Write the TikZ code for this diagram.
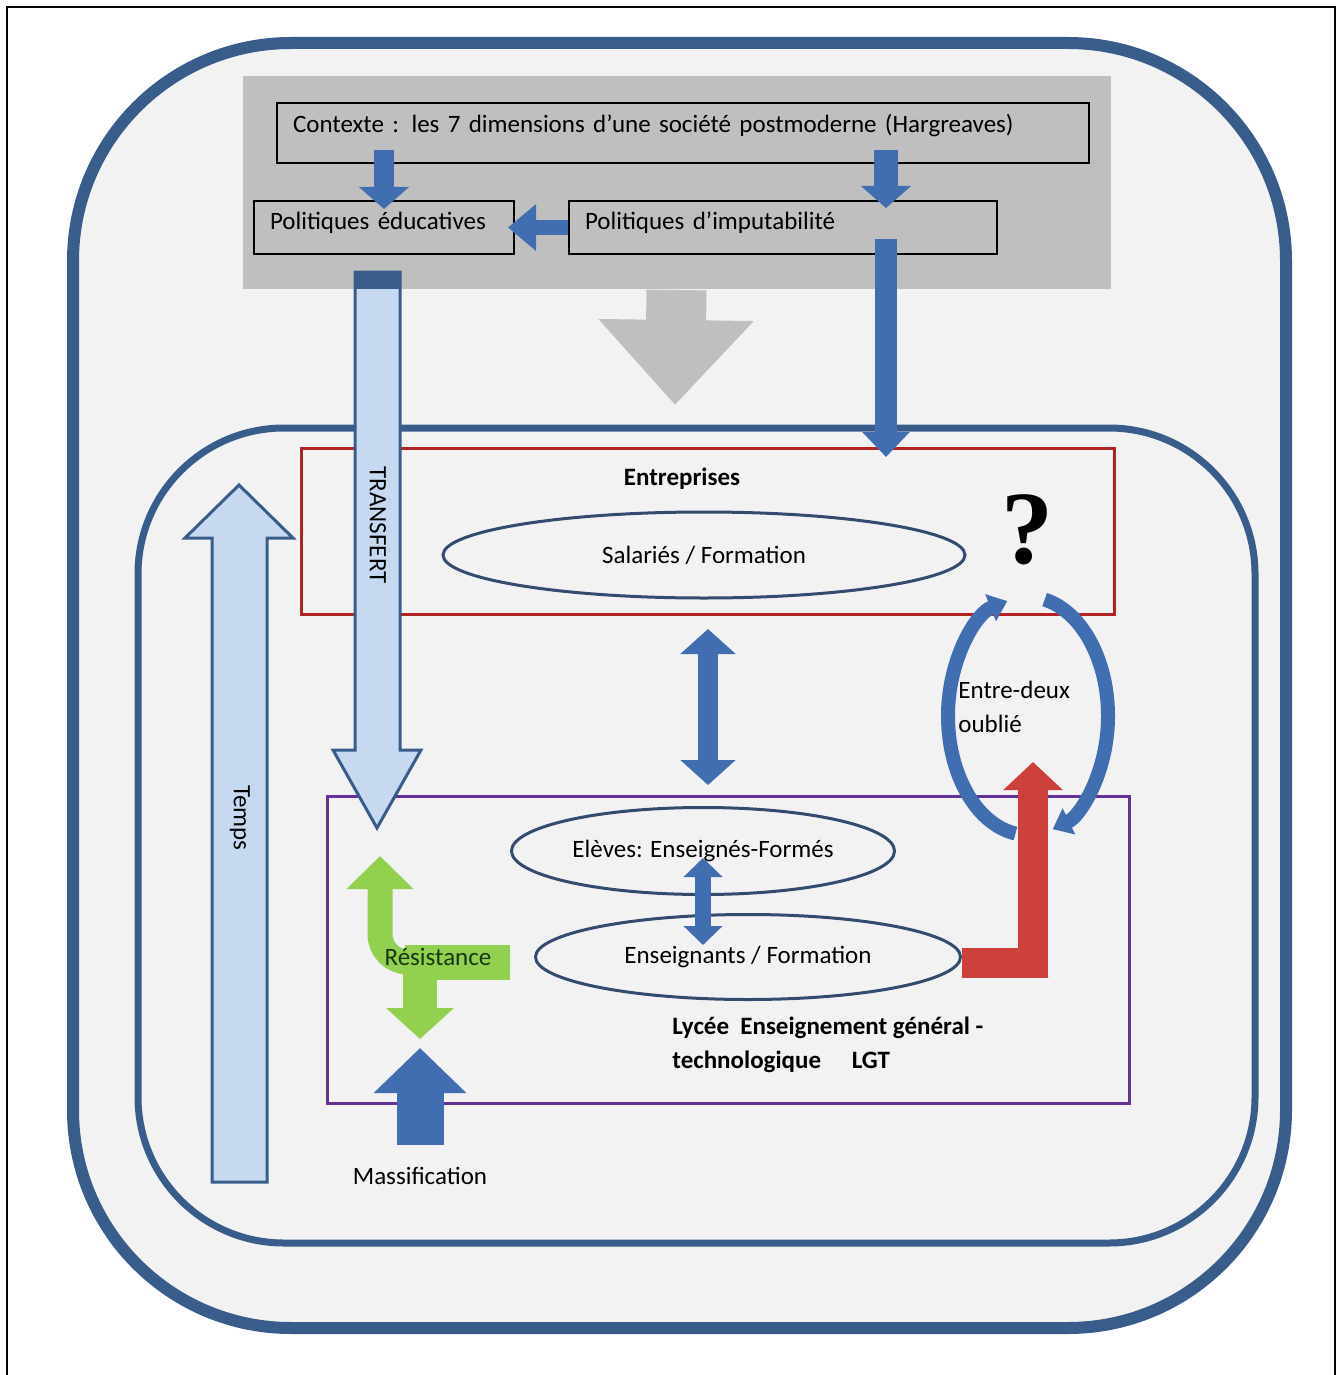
\documentclass[tikz,border=0pt]{standalone}
\usepackage{fontspec}
\setmainfont{Carlito}
\newfontfamily\qmarkfont{Liberation Serif}
\usepackage{tikz}
\usetikzlibrary{arrows.meta,shapes.geometric,calc}

\definecolor{frameblue}{RGB}{56,93,138}
\definecolor{arrowblue}{RGB}{64,110,176}
\definecolor{paleblue}{RGB}{198,217,241}
\definecolor{ovalblue}{RGB}{50,75,110}
\definecolor{boxgray}{RGB}{191,191,191}
\definecolor{bggray}{RGB}{242,242,242}
\definecolor{firmred}{RGB}{180,35,35}
\definecolor{lgtpurple}{RGB}{100,50,150}
\definecolor{loopred}{RGB}{204,65,60}
\definecolor{resgreen}{RGB}{146,208,80}
\definecolor{restext}{RGB}{25,55,15}

\tikzstyle{lbl}=[inner sep=0pt, font=\fontsize{12.5}{17}\selectfont]
\tikzstyle{boldlbl}=[inner sep=0pt, font=\fontsize{12.5}{17}\selectfont\bfseries]
\tikzstyle{policy}=[rectangle, draw=black, line width=1pt, anchor=north west, align=left, inner xsep=8pt, inner ysep=3pt, font=\fontsize{12.5}{17}\selectfont]
\tikzstyle{ovalbox}=[ellipse, draw=ovalblue, line width=1.5pt, inner sep=0pt, font=\fontsize{12.5}{17}\selectfont]
\tikzstyle{zone}=[rectangle, line width=1.5pt, anchor=north west, inner sep=0pt]
\tikzstyle{barrow}=[draw=arrowblue, line join=miter]
\tikzstyle{palearrow}=[fill=paleblue, draw=frameblue, line width=1.5pt, line join=miter]
\tikzstyle{looparrow}=[draw=arrowblue, line width=7pt, -{Triangle[width=14pt,length=9pt]}]

\begin{document}
\begin{tikzpicture}[x=0.5pt, y=-0.5pt]
\useasboundingbox[fill=white] (0,0) rectangle (1339,1375);
\draw[line width=1.25pt] (7,1375) -- (7,7) -- (1335,7) -- (1335,1375);
\draw[frameblue, fill=bggray, line width=6pt, rounded corners=109pt] (73,43) rectangle (1286,1328);

% context zone
\node[zone, fill=boxgray, minimum width=434pt, minimum height=106pt] (ctxzone) at (241,75) {};
\node[policy, text width=390pt, text height=12pt, text depth=12pt] (ctx) at (276,102) {Contexte : les 7 dimensions d'une société postmoderne (Hargreaves)};
\node[policy, text width=114pt, text height=11pt, text depth=9.5pt] (educ) at (253,200) {Politiques éducatives};
\node[policy, text width=198pt, text height=11pt, text depth=9.5pt] (imput) at (568,200) {Politiques d'imputabilité};

\coordinate (rcol) at (886,0);
\coordinate (mcol) at (708,0);
\coordinate (gtip) at (675,405);

\draw[barrow, line width=10pt, -{Triangle[width=24.5pt,length=11pt]}] ([yshift=7pt]ctx.south -| educ.north) -- ([yshift=-4.5pt]educ.north);
\draw[barrow, line width=12pt, -{Triangle[width=24.5pt,length=11pt]}] ([yshift=7pt]ctx.south -| rcol) -- ([yshift=-4pt]imput.north -| rcol);
\draw[barrow, line width=7.5pt, -{Triangle[width=22.5pt,length=14pt]}] (imput.west) -- ([xshift=-3.5pt]educ.east);
\draw[draw=boxgray, line width=30pt, -{Triangle[width=75pt,length=42.5pt]}] (ctxzone.south) -- (gtip);

% inner panel
\draw[frameblue, line width=3.5pt, rounded corners=73pt] (138,428) rectangle (1255,1243);

% entreprises
\node[zone, draw=firmred, minimum width=406.5pt, minimum height=83pt] (firms) at (300,447) {};
\node[boldlbl] (firmlbl) at (682,479) {Entreprises};
\node[ovalbox, minimum width=261pt, minimum height=43pt] (salaries) at (704,555) {Salariés / Formation};
\node[inner sep=0pt, font=\qmarkfont\bfseries\fontsize{52}{52}\selectfont] (qmark) at (1027,530) {?};

% lycee
\node[zone, draw=lgtpurple, minimum width=401pt, minimum height=153.5pt] (lgt) at (326,795) {};
\node[ovalbox, minimum width=191.5pt, minimum height=43.5pt] (eleves) at (703,851) {Elèves: Enseignés-Formés};
\node[ovalbox, minimum width=212.5pt, minimum height=42.5pt] (ensei) at (748,957) {Enseignants / Formation};
\node[boldlbl, anchor=west, align=left] (lgtlbl) at (672,1045) {Lycée\ \ Enseignement général -\\technologique\hspace{1em} LGT};

% temps / transfert
\draw[palearrow] (212,1182) -- (212,538) -- (185,538) -- (239,485) -- (293,538) -- (267,538) -- (267,1182) -- cycle;
\node[lbl, rotate=-90] (temps) at (240,818) {Temps};
\draw[palearrow] (355,272) -- (355,750) -- (333,750) -- (377,828) -- (421,750) -- (400,750) -- (400,272) -- cycle;
\fill[frameblue] (355,272) rectangle (400,289);
\node[lbl, rotate=-90] (transfert) at (378,525) {TRANSFERT};

\draw[barrow, line width=11pt, -{Triangle[width=23pt,length=12.5pt]}] ([yshift=8pt]imput.south -| rcol) -- ([yshift=-5pt]firms.north -| rcol);
\draw[barrow, line width=10pt, {Triangle[width=27pt,length=12.5pt]}-{Triangle[width=27pt,length=12.5pt]}] ([yshift=-6.5pt]firms.south -| mcol) -- ([yshift=5pt]lgt.north -| mcol);
\draw[barrow, line width=8pt, {Triangle[width=19pt,length=9.5pt]}-{Triangle[width=19pt,length=9.5pt]}] ([yshift=-3.5pt]eleves.center) -- ($(ensei.center -| eleves.center)+(0,-12)$);

% entre-deux
\coordinate (loopc) at (1028,716);
\draw[looparrow] ($(loopc)+(99:80 and 119)$) arc[start angle=99, end angle=255, x radius=80, y radius=119];
\draw[looparrow] ($(loopc)+(282:80 and 119)$) arc[start angle=282, end angle=432, x radius=80, y radius=119];
\node[lbl, anchor=west, align=left] (entredeux) at (958,707) {Entre-deux\\oublié};

\coordinate (redtip) at (1033,762);
\draw[draw=loopred, line width=15pt, line join=miter, -{Triangle[width=29pt,length=14pt]}] ([yshift=-3pt]ensei.east) -| (redtip);

% resistance
\coordinate (resR) at (510,962);
\coordinate (resUp) at (380,856);
\coordinate (resDown) at (420,1039);
\draw[draw=resgreen, line width=12.5pt, rounded corners=14pt, -{Triangle[width=32.5pt,length=16.5pt]}] (resR) -| (resUp);
\draw[draw=resgreen, line width=17.5pt] (405,962) -- (resR);
\draw[draw=resgreen, line width=17pt, -{Triangle[width=33pt,length=15.5pt]}] (resDown |- resR) -- (resDown);
\node[lbl, text=restext] (res) at (438,957) {Résistance};

% massification
\node[lbl] (massif) at (420,1176) {Massification};
\coordinate (masstip) at (420,1048);
\draw[barrow, line width=23.5pt, -{Triangle[width=45pt,length=22.5pt]}] ([yshift=11pt]massif.north) -- (masstip);
\end{tikzpicture}
\end{document}
